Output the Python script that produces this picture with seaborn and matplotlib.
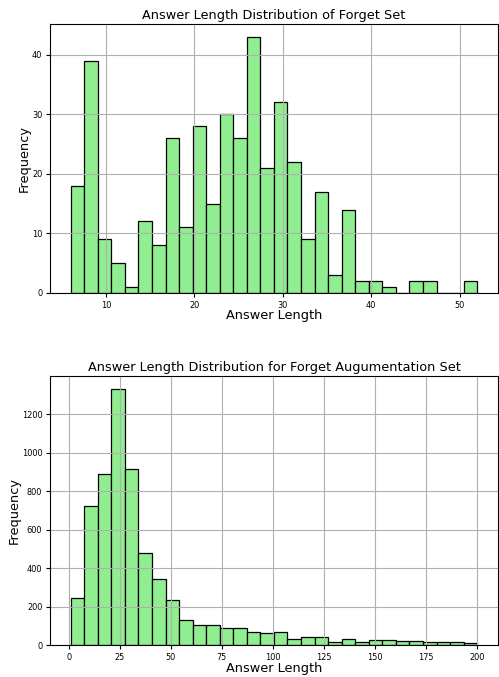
import numpy as np
import pandas as pd
import matplotlib
matplotlib.use("Agg")
import matplotlib.pyplot as plt
import seaborn as sns

# Binned counts (30 bins each)
forget_range = (6, 52)
forget_counts = [18, 39, 9, 5, 1, 12, 8, 26, 11, 28, 15, 30, 26, 43, 21,
                 32, 22, 9, 17, 3, 14, 2, 2, 1, 0, 2, 2, 0, 0, 2]

aug_range = (1, 200)
aug_counts = [248, 722, 892, 1332, 918, 481, 346, 237, 130, 104, 106, 87, 88, 71, 62,
              69, 30, 44, 41, 18, 34, 17, 25, 25, 22, 23, 14, 15, 16, 9]

titles = ["Answer Length Distribution of Forget Set",
          "Answer Length Distribution for Forget Augumentation Set"]


def binned_frame(rng, counts):
    edges = np.linspace(rng[0], rng[1], len(counts) + 1)
    mids = (edges[:-1] + edges[1:]) / 2
    return pd.DataFrame({"length": mids, "count": counts})


fig, axes = plt.subplots(2, 1, figsize=(4.99, 6.77), dpi=100)
fig.subplots_adjust(left=0.101, right=0.997, top=0.9645, bottom=0.047, hspace=0.31)

for ax, (rng, counts), title in zip(axes, [(forget_range, forget_counts), (aug_range, aug_counts)], titles):
    df = binned_frame(rng, counts)
    sns.histplot(data=df, x="length", weights="count", bins=len(counts), binrange=rng, ax=ax,
                 color="lightgreen", edgecolor="black", linewidth=0.9, alpha=1)
    ax.set_title(title, fontsize=9.3, pad=3.5)
    ax.set_xlabel("Answer Length", fontsize=9.3, labelpad=-0.5)
    ax.set_ylabel("Frequency", fontsize=9.3, labelpad=1)
    ax.tick_params(labelsize=5.9, length=2.9, pad=2.9)
    ax.grid(True, color="#b0b0b0", linewidth=0.8)
    ax.set_axisbelow("line")

axes[1].set_xticks(np.arange(0, 201, 25))

plt.savefig("out.png", dpi=100)
